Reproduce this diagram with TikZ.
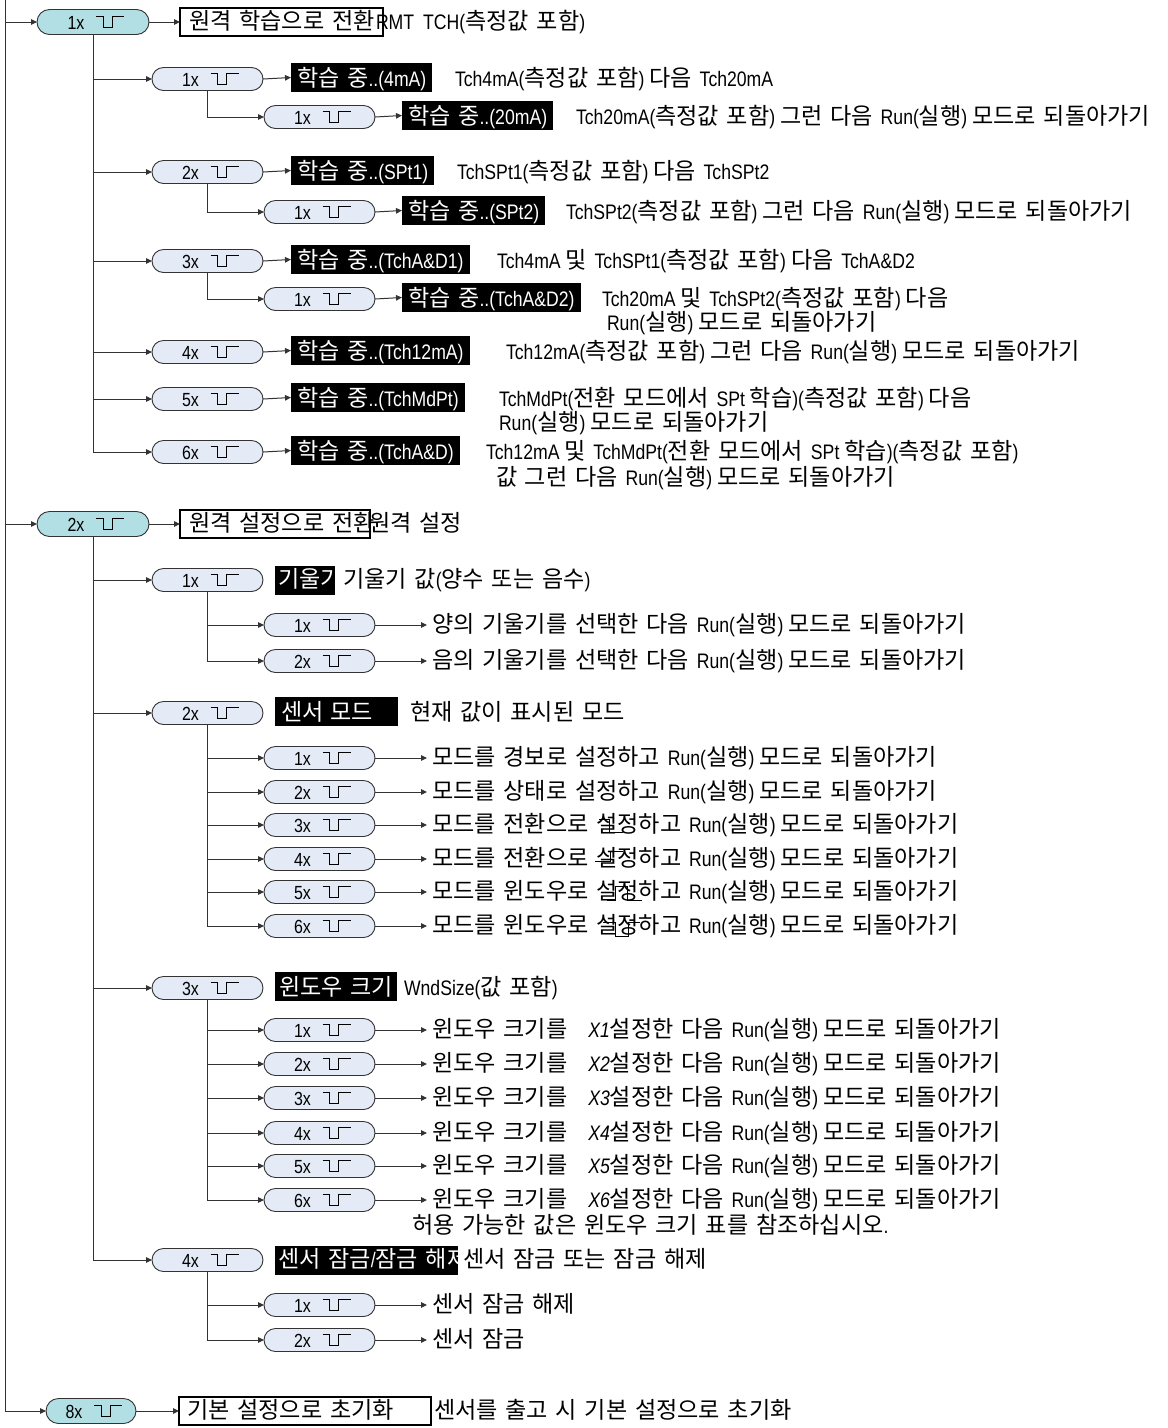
\documentclass[tikz,border=0pt]{standalone}
\usepackage{fontspec}
\setmainfont{Liberation Sans}[FakeStretch=0.84]
\newfontfamily\ltfont{Liberation Sans}[FakeStretch=0.84]
\newfontfamily\krfont{Noto Sans CJK KR}[Scale=1.1, WordSpace=1.5]
\usetikzlibrary{arrows.meta,calc}
\XeTeXinterchartokenstate=1
\newXeTeXintercharclass\KRclass
\newcount\krc
\krc="AC00
\loop\XeTeXcharclass\krc=\KRclass \advance\krc by 1 \ifnum\krc<"D7A4 \repeat
\XeTeXinterchartoks 0 \KRclass = {\krfont}
\XeTeXinterchartoks 4095 \KRclass = {\krfont}
\XeTeXinterchartoks \KRclass 0 = {\ltfont}
\XeTeXinterchartoks 4095 0 = {\ltfont}
\definecolor{pilltop}{HTML}{B2DFE4}
\definecolor{pillsub}{HTML}{E4EBF7}
\definecolor{linec}{HTML}{333333}
\tikzset{
  pillA/.style={draw=linec, line width=0.9pt, fill=pilltop, rounded corners=12.5pt, minimum width=112pt, minimum height=25pt},
  pillB/.style={draw=linec, line width=0.9pt, fill=pillsub, rounded corners=11.5pt, minimum width=111pt, minimum height=23pt},
  pilllab/.style={anchor=base, font=\fontsize{19}{22}\selectfont},
  pulseln/.style={draw=black, line width=1pt},
  blk/.style={anchor=base west, fill=black, text=white, inner xsep=6pt, inner ysep=2pt, text height=21pt, text depth=4pt},
  frmbox/.style={anchor=west, draw=black, line width=1.6pt, minimum height=28pt},
  txt/.style={anchor=base west},
  conn/.style={draw=linec, line width=1pt, -{Triangle[length=6pt,width=5.5pt]}},
  conns/.style={conn, shorten >=5pt},
  glyph/.style={draw=black, line width=1pt},
}
\newcommand\pillnode[5]{%
  \node[#1] (#2) at (#3,#4) {};
  \node[pilllab] (#2l) at ($(#2.center)+(-17,7)$) {#5};
  \draw[pulseln] ($(#2.center)+(3,-6)$) -- ++(7,0) -- ++(0,11) -- ++(9,0) -- ++(0,-11) -- ++(12,0);
}
\begin{document}
\begin{tikzpicture}[x=1pt,y=-1pt, every node/.style={inner sep=0pt, outer sep=0pt}, font=\fontsize{21}{25}\selectfont]
\useasboundingbox (0,0) rectangle (1168,1428);
% trunk
\coordinate (t0) at (5,0);
\coordinate (t1) at (5,22);
\coordinate (t2) at (5,524);
\draw[linec, line width=1pt] (t0) -- (t1);
% ===== section 1
\pillnode{pillA}{A1}{93}{22}{1x}
\draw[conn] (t1) -- (A1.west);
\node[frmbox, minimum width=203pt] (F1) at (180,22) {};
\node[txt] (F1a) at (189,29) {원격 학습으로 전환};
\draw[conn] (A1.east) -- (F1.west);
\node[txt] (F1t) at (376,29) {RMT\hspace{9pt}TCH(측정값 포함)};

\pillnode{pillB}{B1}{207.5}{79}{1x}
\draw[conn] (A1.south) |- (B1.west);
\node[blk] (K1) at (291,86) {학습 중..(4mA)};
\draw[conn] (B1.east) -- (K1.west);
\node[txt] (T1) at (455,86) {Tch4mA(측정값 포함) 다음 Tch20mA};

\pillnode{pillB}{C1}{319.5}{117}{1x}
\draw[conn] (B1.south) |- (C1.west);
\node[blk] (K2) at (402,124) {학습 중..(20mA)};
\draw[conn] (C1.east) -- (K2.west);
\node[txt] (T2) at (576,124) {Tch20mA(측정값 포함) 그런 다음 Run(실행) 모드로 되돌아가기};

\pillnode{pillB}{B2}{207.5}{172}{2x}
\draw[conn] (A1.south) |- (B2.west);
\node[blk] (K3) at (291,179) {학습 중..(SPt1)};
\draw[conn] (B2.east) -- (K3.west);
\node[txt] (T3) at (457,179) {TchSPt1(측정값 포함) 다음 TchSPt2};

\pillnode{pillB}{C2}{319.5}{212}{1x}
\draw[conn] (B2.south) |- (C2.west);
\node[blk] (K4) at (402,219) {학습 중..(SPt2)};
\draw[conn] (C2.east) -- (K4.west);
\node[txt] (T4) at (566,219) {TchSPt2(측정값 포함) 그런 다음 Run(실행) 모드로 되돌아가기};

\pillnode{pillB}{B3}{207.5}{261}{3x}
\draw[conn] (A1.south) |- (B3.west);
\node[blk] (K5) at (291,268) {학습 중..(TchA\&D1)};
\draw[conn] (B3.east) -- (K5.west);
\node[txt] (T5) at (497,268) {Tch4mA 및 TchSPt1(측정값 포함) 다음 TchA\&D2};

\pillnode{pillB}{C3}{319.5}{299}{1x}
\draw[conn] (B3.south) |- (C3.west);
\node[blk] (K6) at (402,306) {학습 중..(TchA\&D2)};
\draw[conn] (C3.east) -- (K6.west);
\node[txt] (T6) at (602,306) {Tch20mA 및 TchSPt2(측정값 포함) 다음};
\node[txt] (T6b) at (607,330) {Run(실행) 모드로 되돌아가기};

\pillnode{pillB}{B4}{207.5}{352}{4x}
\draw[conn] (A1.south) |- (B4.west);
\node[blk] (K7) at (291,359) {학습 중..(Tch12mA)};
\draw[conn] (B4.east) -- (K7.west);
\node[txt] (T7) at (506,359) {Tch12mA(측정값 포함) 그런 다음 Run(실행) 모드로 되돌아가기};

\pillnode{pillB}{B5}{207.5}{399}{5x}
\draw[conn] (A1.south) |- (B5.west);
\node[blk] (K8) at (291,406) {학습 중..(TchMdPt)};
\draw[conn] (B5.east) -- (K8.west);
\node[txt] (T8) at (499,406) {TchMdPt(전환 모드에서 SPt 학습)(측정값 포함) 다음};
\node[txt] (T8b) at (499,430) {Run(실행) 모드로 되돌아가기};

\pillnode{pillB}{B6}{207.5}{452}{6x}
\draw[conn] (A1.south) |- (B6.west);
\node[blk] (K9) at (291,459) {학습 중..(TchA\&D)};
\draw[conn] (B6.east) -- (K9.west);
\node[txt] (T9) at (486,459) {Tch12mA 및 TchMdPt(전환 모드에서 SPt 학습)(측정값 포함)};
\node[txt] (T9b) at (496,485) {값 그런 다음 Run(실행) 모드로 되돌아가기};

% ===== section 2
\draw[linec, line width=1pt] (t1) -- (t2);
\pillnode{pillA}{A2}{93}{524}{2x}
\draw[conn] (t2) -- (A2.west);
\node[frmbox, minimum width=190pt] (F2) at (180,524) {};
\node[txt] (F2a) at (189,531) {원격 설정으로 전환};
\draw[conn] (A2.east) -- (F2.west);
\node[txt] (F2t) at (369,531) {원격 설정};

\pillnode{pillB}{B7}{207.5}{580}{1x}
\draw[conn] (A2.south) |- (B7.west);
\fill (275,565.5) rectangle (335,594.5);
\begin{scope}
\clip (275,565.5) rectangle (335,594.5);
\node[txt, text=white] (K10) at (278,587) {기울기};
\end{scope}
\node[txt] (T10) at (343,587) {기울기 값(양수 또는 음수)};

\pillnode{pillB}{C4}{319.5}{625}{1x}
\draw[conn] (B7.south) |- (C4.west);
\node[txt] (T11) at (432,632) {양의 기울기를 선택한 다음 Run(실행) 모드로 되돌아가기};
\draw[conns] (C4.east) -- (T11.west|-C4.east);
\pillnode{pillB}{C5}{319.5}{661}{2x}
\draw[conn] (B7.south) |- (C5.west);
\node[txt] (T12) at (432,668) {음의 기울기를 선택한 다음 Run(실행) 모드로 되돌아가기};
\draw[conns] (C5.east) -- (T12.west|-C5.east);

\pillnode{pillB}{B8}{207.5}{713}{2x}
\draw[conn] (A2.south) |- (B8.west);
\node[blk, minimum width=123pt, align=left, text width=111pt] (K11) at (275,720) {센서 모드};
\node[txt] (T13) at (410,720) {현재 값이 표시된 모드};

\pillnode{pillB}{C6}{319.5}{758}{1x}
\draw[conn] (B8.south) |- (C6.west);
\node[txt] (T14) at (432,765) {모드를 경보로 설정하고 Run(실행) 모드로 되돌아가기};
\draw[conns] (C6.east) -- (T14.west|-C6.east);
\pillnode{pillB}{C7}{319.5}{792}{2x}
\draw[conn] (B8.south) |- (C7.west);
\node[txt] (T15) at (432,799) {모드를 상태로 설정하고 Run(실행) 모드로 되돌아가기};
\draw[conns] (C7.east) -- (T15.west|-C7.east);
\pillnode{pillB}{C8}{319.5}{825}{3x}
\draw[conn] (B8.south) |- (C8.west);
\node[txt] (T16) at (432,832) {모드를 전환으로 설정하고 Run(실행) 모드로 되돌아가기};
\draw[conns] (C8.east) -- (T16.west|-C8.east);
\pillnode{pillB}{C9}{319.5}{859}{4x}
\draw[conn] (B8.south) |- (C9.west);
\node[txt] (T17) at (432,866) {모드를 전환으로 설정하고 Run(실행) 모드로 되돌아가기};
\draw[conns] (C9.east) -- (T17.west|-C9.east);
\pillnode{pillB}{C10}{319.5}{892}{5x}
\draw[conn] (B8.south) |- (C10.west);
\node[txt] (T18) at (432,899) {모드를 윈도우로 설정하고 Run(실행) 모드로 되돌아가기};
\draw[conns] (C10.east) -- (T18.west|-C10.east);
\pillnode{pillB}{C11}{319.5}{926}{6x}
\draw[conn] (B8.south) |- (C11.west);
\node[txt] (T19) at (432,933) {모드를 윈도우로 설정하고 Run(실행) 모드로 되돌아가기};
\draw[conns] (C11.east) -- (T19.west|-C11.east);
% output symbols overlaid
\draw[glyph] (599,819) -- (609,819) -- (609,832) -- (623,832);
\draw[glyph] (595,861) -- (610,861) -- (610,851) -- (623,851);
\draw[glyph] (607,900) -- (615,900) -- (615,886) -- (627,886) -- (627,900) -- (642,900);
\draw[glyph] (603,922) -- (615,922) -- (615,936) -- (628,936) -- (628,922) -- (640,922);

\pillnode{pillB}{B9}{207.5}{988}{3x}
\draw[conn] (A2.south) |- (B9.west);
\node[blk, inner xsep=4pt] (K12) at (275,995) {윈도우 크기};
\node[txt] (T20) at (404,995) {WndSize(값 포함)};

\foreach \i/\yy in {1/1030,2/1064,3/1098,4/1133,5/1166,6/1200}{
  \pillnode{pillB}{W\i}{319.5}{\yy}{\i x}
  \draw[conn] (B9.south) |- (W\i.west);
  \node[txt] (WT\i) at (432,\yy+7) {윈도우 크기를};
  \node[txt] (WX\i) at ([xshift=21pt]WT\i.base east) {{\itshape X\i}설정한 다음 Run(실행) 모드로 되돌아가기};
  \draw[conns] (W\i.east) -- (WT\i.west|-W\i.east);
}
\node[txt] (T21) at (412,1233) {허용 가능한 값은 윈도우 크기 표를 참조하십시오.};

\pillnode{pillB}{B10}{207.5}{1260}{4x}
\draw[conn] (A2.south) |- (B10.west);
\fill (275,1245.5) rectangle (458,1274.5);
\begin{scope}
\clip (275,1245.5) rectangle (458,1274.5);
\node[txt, text=white] (K13) at (278,1267) {센서 잠금/잠금 해제};
\end{scope}
\node[txt] (T22) at (463,1267) {센서 잠금 또는 잠금 해제};

\pillnode{pillB}{C12}{319.5}{1305}{1x}
\draw[conn] (B10.south) |- (C12.west);
\node[txt] (T23) at (432,1312) {센서 잠금 해제};
\draw[conns] (C12.east) -- (T23.west|-C12.east);
\pillnode{pillB}{C13}{319.5}{1340}{2x}
\draw[conn] (B10.south) |- (C13.west);
\node[txt] (T24) at (432,1347) {센서 잠금};
\draw[conns] (C13.east) -- (T24.west|-C13.east);

% ===== section 3
\pillnode{pillA, minimum width=90pt}{A3}{91}{1411}{8x}
\draw[conn] (t2) |- (A3.west);
\node[frmbox, minimum width=252pt] (F3) at (179,1411) {};
\node[txt] (F3a) at (187,1418) {기본 설정으로 초기화};
\draw[conn] (A3.east) -- (F3.west);
\node[txt] (F3t) at (434,1418) {센서를 출고 시 기본 설정으로 초기화};
\end{tikzpicture}
\end{document}
